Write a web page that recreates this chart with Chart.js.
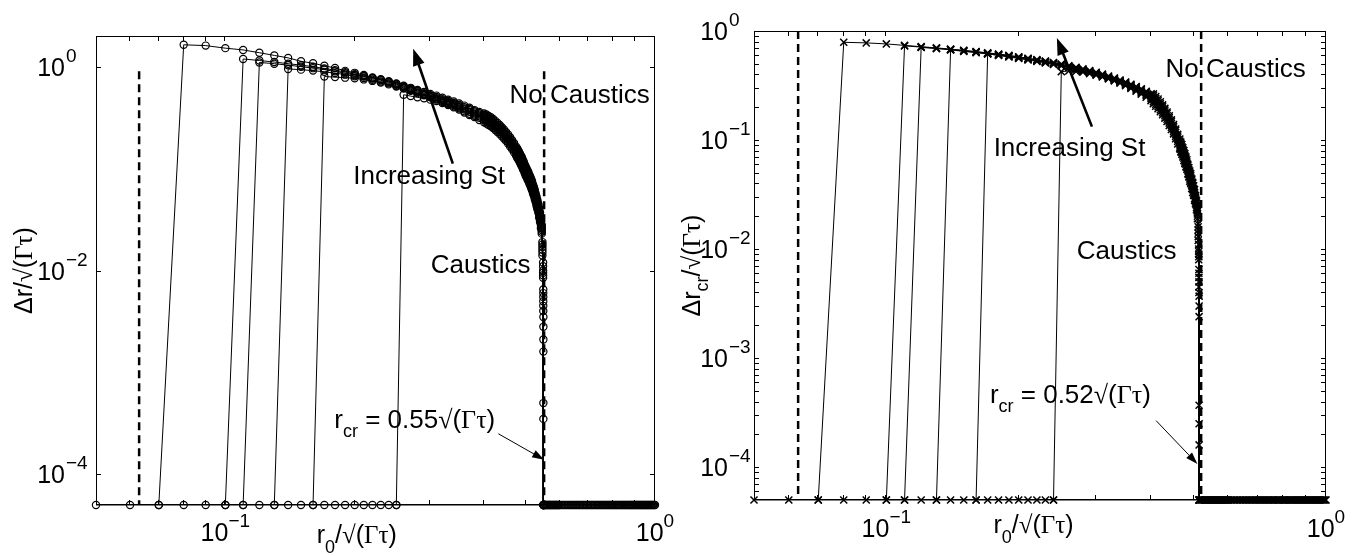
<!DOCTYPE html>
<html><head><meta charset="utf-8">
<script src="https://cdn.jsdelivr.net/npm/chart.js@4.4.1/dist/chart.umd.min.js"></script>
<style>
html,body{margin:0;padding:0;background:#fff;}
#wrap{position:relative;width:1361px;height:556px;overflow:hidden;background:#fff}
canvas{position:absolute;top:0}
</style>
</head><body>
<div id="wrap"><canvas id="cL" width="680" height="556" style="left:0"></canvas><canvas id="cR" width="681" height="556" style="left:680px"></canvas></div>
<script>
const N = null, F = 5e-5;

// ---------- LEFT PANEL DATA (circles) ----------
const xL = [0.05,0.06,0.07,0.08,0.09,0.10,0.11,0.12,0.13,0.14,
  0.15,0.16,0.17,0.18,0.19,0.20,0.21,0.22,0.23,0.24,
  0.25,0.26,0.27,0.28,0.29,0.30,0.31,0.32,0.33,0.34,
  0.35,0.36,0.37,0.38,0.39,0.40,
  0.405,0.41,0.415,0.42,0.425,0.43,0.435,0.44,0.445,0.45,
  0.455,0.46,0.465,0.47,0.475,
  0.4775,0.48,0.4825,0.485,0.4875,0.49,0.4925,0.495,0.4975,0.50,
  0.5025,0.505,0.5075,0.51,0.5125,0.515,0.5175,0.52,0.5225,0.525,
  0.5275,0.53,0.5325,0.535,0.5375,0.54,0.5425,0.545,
  0.547,0.549,0.5495,0.5498,0.55];
const aL = [N,N,F,1.64,1.61,1.52,1.46,1.37,1.29,1.22,
  1.13,1.08,1.02,0.97,0.91,0.87,0.83,0.785,0.755,0.72,
  0.685,0.65,0.62,0.59,0.565,0.54,0.52,0.495,0.475,0.455,
  0.435,0.415,0.395,0.375,0.36,0.348,
  0.340,0.329,0.319,0.307,0.294,0.281,0.268,0.255,0.242,0.229,
  0.216,0.203,0.190,0.177,0.164,
  0.158,0.152,0.146,0.140,0.134,0.129,0.122,0.117,0.110,0.105,
  0.100,0.096,0.092,0.087,0.083,0.079,0.075,0.070,0.066,0.062,
  0.057,0.053,0.049,0.045,0.041,0.037,0.032,0.028,
  0.019,0.012,0.0065,0.0035,F];
const bL = [N,N,N,N,N,F,1.19,1.15,1.11,1.07,
  1.035,1.0,0.96,0.925,0.885,0.845,0.81,0.775,0.745,0.71,
  0.675,0.64,0.61,0.58,0.55,0.525,0.505,0.48,0.46,0.44,
  0.42,0.40,0.385,0.365,0.35,0.337,
  0.328,0.317,0.307,0.295,0.283,0.270,0.258,0.245,0.233,0.220,
  0.208,0.196,0.183,0.171,0.158,
  0.152,0.147,0.140,0.135,0.129,0.124,0.118,0.112,0.106,0.101,
  0.097,0.093,0.088,0.084,0.080,0.076,0.072,0.068,0.063,0.059,
  0.055,0.051,0.047,0.044,0.040,0.035,0.031,0.027,
  0.018,0.011,0.006,0.0028,F];
const cL = [N,N,N,N,N,N,F,1.10,1.07,1.035,
  1.0,0.967,0.935,0.90,0.864,0.83,0.80,0.765,0.735,0.70,
  0.665,0.63,0.60,0.57,0.54,0.515,0.49,0.47,0.45,0.43,
  0.41,0.39,0.375,0.355,0.34,0.325,
  0.315,0.305,0.295,0.284,0.272,0.260,0.248,0.236,0.224,0.212,
  0.200,0.188,0.176,0.164,0.152,
  0.146,0.141,0.135,0.130,0.124,0.119,0.113,0.108,0.102,0.097,
  0.093,0.089,0.085,0.081,0.077,0.073,0.069,0.065,0.061,0.057,
  0.053,0.049,0.045,0.042,0.038,0.034,0.030,0.026,
  0.017,0.010,0.0055,0.0021,F];
const dL = [N,N,N,N,N,N,N,N,F,0.95,
  0.935,0.915,0.89,0.865,0.835,0.805,0.775,0.745,0.715,0.685,
  0.65,0.62,0.59,0.56,0.53,0.505,0.48,0.46,0.44,0.42,
  0.40,0.38,0.36,0.34,0.325,0.312,
  0.302,0.293,0.283,0.273,0.261,0.250,0.238,0.227,0.215,0.204,
  0.192,0.180,0.169,0.157,0.146,
  0.140,0.135,0.130,0.125,0.119,0.114,0.108,0.104,0.098,0.093,
  0.089,0.085,0.082,0.078,0.074,0.070,0.066,0.062,0.059,0.055,
  0.051,0.047,0.043,0.040,0.036,0.033,0.029,0.025,
  0.016,0.0095,0.005,0.0016,F];
const eL = [N,N,N,N,N,N,N,N,N,N,
  N,F,0.80,0.79,0.78,0.77,0.75,0.725,0.70,0.67,
  0.64,0.61,0.58,0.55,0.525,0.50,0.475,0.45,0.43,0.41,
  0.39,0.365,0.345,0.33,0.315,0.30,
  0.290,0.281,0.271,0.261,0.250,0.239,0.228,0.217,0.206,0.195,
  0.184,0.173,0.162,0.151,0.140,
  0.134,0.130,0.124,0.120,0.114,0.109,0.104,0.099,0.094,0.089,
  0.086,0.082,0.078,0.075,0.071,0.067,0.063,0.060,0.056,0.052,
  0.049,0.045,0.041,0.039,0.035,0.031,0.028,0.024,
  0.015,0.009,0.0045,0.0005,F];
const fL = [N,N,N,N,N,N,N,N,N,N,
  N,N,N,N,N,N,N,N,N,N,
  F,0.53,0.515,0.50,0.49,0.475,0.46,0.44,0.42,0.40,
  0.38,0.355,0.335,0.32,0.30,0.285,
  0.277,0.268,0.260,0.250,0.239,0.229,0.218,0.208,0.197,0.187,
  0.176,0.165,0.155,0.144,0.134,
  0.128,0.124,0.119,0.114,0.109,0.105,0.099,0.095,0.090,0.085,
  0.082,0.078,0.075,0.071,0.068,0.064,0.061,0.057,0.054,0.050,
  0.047,0.043,0.040,0.037,0.033,0.030,0.026,0.023,
  0.014,0.0085,0.004,0.00035,F];
const xFloorL = [0.05,0.06,0.07,0.08,0.09,0.10,0.11,0.12,0.13,0.14,
  0.15,0.16,0.17,0.18,0.19,0.20,0.21,0.22,0.23,0.24,0.25,
  0.55,0.5525,0.555,0.5575,0.56,0.5625,0.565,0.5675,0.57,0.5725,
  0.575,0.5775,0.58,0.5825,0.585,0.5875,0.59,0.5925,0.595,0.5975,0.60,
  0.605,0.61,0.615,0.62,0.625,0.63,0.635,0.64,0.645,0.65,
  0.655,0.66,0.665,0.67,0.675,0.68,0.685,0.69,0.695,0.70,
  0.705,0.71,0.715,0.72,0.725,0.73,0.735,0.74,0.745,0.75,
  0.755,0.76,0.765,0.77,0.775,0.78,0.785,0.79,0.795,0.80,
  0.805,0.81,0.815,0.82,0.825,0.83,0.835,0.84,0.845,0.85,
  0.855,0.86,0.865,0.87,0.875,0.88,0.885,0.89,0.895,0.90,
  0.905,0.91,0.915,0.92,0.925,0.93,0.935,0.94,0.945,0.95,
  0.955,0.96,0.965,0.97,0.975,0.98,0.985,0.99,0.995,1.00];
const yFloorL = [F,F,F,F,F,F,F,F,F,F,F,F,F,F,F,F,F,F,F,F,
  F,F,F,F,F,F,F,F,F,F,F,F,F,F,F,F,F,F,F,F,
  F,F,F,F,F,F,F,F,F,F,F,F,F,F,F,F,F,F,F,F,
  F,F,F,F,F,F,F,F,F,F,F,F,F,F,F,F,F,F,F,F,
  F,F,F,F,F,F,F,F,F,F,F,F,F,F,F,F,F,F,F,F,
  F,F,F,F,F,F,F,F,F,F,F,F,F,F,F,F,F,F,F,F,
  F,F];
const dashXL = [0.063, 0.552];
const dashTopL = 0.9;

// ---------- RIGHT PANEL DATA (crosses) ----------
const xR = [0.05,0.06,0.07,0.08,0.09,0.10,0.11,0.12,0.13,0.14,
  0.15,0.16,0.17,0.18,0.19,0.20,0.21,0.22,0.23,0.24,
  0.25,0.26,0.27,0.28,0.29,0.30,0.31,0.32,0.33,0.34,
  0.35,0.36,0.37,0.38,0.39,0.40,
  0.405,0.41,0.415,0.42,0.425,0.43,0.435,0.44,0.445,0.45,
  0.455,0.46,0.465,
  0.4675,0.47,0.4725,0.475,0.4775,0.48,0.4825,0.485,0.4875,0.49,
  0.4925,0.495,0.4975,0.50,0.5025,0.505,0.5075,0.51,
  0.512,0.5135,0.514,0.5145,0.515];
const aR = [N,N,F,0.788,0.778,0.761,0.738,0.718,0.70,0.682,
  0.665,0.648,0.63,0.615,0.598,0.58,0.563,0.546,0.53,0.513,
  0.497,0.48,0.465,0.449,0.433,0.418,0.402,0.386,0.37,0.355,
  0.34,0.325,0.31,0.295,0.28,0.266,
  0.265,0.251,0.238,0.224,0.210,0.195,0.181,0.167,0.153,0.139,
  0.126,0.113,0.102,
  0.096,0.091,0.085,0.080,0.075,0.070,0.066,0.060,0.056,0.052,
  0.049,0.044,0.041,0.038,0.035,0.031,0.028,0.024,
  0.017,0.011,0.0065,0.0037,F];
const bR = [N,N,N,N,N,F,0.73,0.712,0.695,0.677,
  0.66,0.643,0.626,0.61,0.593,0.576,0.559,0.542,0.526,0.509,
  0.492,0.476,0.46,0.444,0.428,0.413,0.397,0.381,0.366,0.351,
  0.336,0.321,0.306,0.291,0.276,0.261,
  0.255,0.241,0.229,0.215,0.202,0.188,0.175,0.161,0.148,0.134,
  0.122,0.109,0.098,
  0.093,0.087,0.082,0.077,0.072,0.068,0.063,0.058,0.054,0.050,
  0.047,0.043,0.040,0.036,0.033,0.030,0.027,0.023,
  0.016,0.010,0.006,0.003,F];
const cR = [N,N,N,N,N,N,F,0.707,0.69,0.672,
  0.655,0.638,0.621,0.605,0.588,0.571,0.554,0.537,0.521,0.504,
  0.488,0.471,0.455,0.439,0.424,0.408,0.392,0.377,0.362,0.346,
  0.331,0.316,0.301,0.287,0.272,0.256,
  0.245,0.232,0.220,0.207,0.194,0.181,0.168,0.155,0.142,0.129,
  0.117,0.105,0.094,
  0.089,0.084,0.079,0.074,0.069,0.065,0.061,0.056,0.052,0.048,
  0.045,0.041,0.038,0.035,0.032,0.029,0.026,0.022,
  0.015,0.0095,0.0055,0.0024,F];
const dR = [N,N,N,N,N,N,N,N,F,0.672,
  0.65,0.633,0.616,0.60,0.583,0.566,0.549,0.532,0.516,0.499,
  0.483,0.466,0.45,0.435,0.419,0.403,0.388,0.372,0.357,0.342,
  0.327,0.311,0.295,0.279,0.262,0.247,
  0.235,0.223,0.211,0.199,0.186,0.174,0.161,0.149,0.136,0.124,
  0.112,0.101,0.090,
  0.085,0.081,0.076,0.071,0.066,0.062,0.059,0.054,0.050,0.046,
  0.043,0.039,0.036,0.034,0.031,0.028,0.025,0.021,
  0.014,0.009,0.005,0.00025,F];
const eR = [N,N,N,N,N,N,N,N,N,N,
  N,F,0.618,0.597,0.578,0.56,0.543,0.526,0.51,0.493,
  0.477,0.461,0.445,0.43,0.414,0.398,0.383,0.368,0.353,0.338,
  0.322,0.304,0.287,0.271,0.255,0.239,
  0.225,0.213,0.202,0.190,0.178,0.167,0.155,0.143,0.131,0.119,
  0.108,0.097,0.086,
  0.082,0.077,0.073,0.068,0.063,0.060,0.056,0.052,0.048,0.044,
  0.041,0.038,0.035,0.032,0.029,0.027,0.024,0.020,
  0.013,0.0085,0.0045,0.00037,F];
const fR = [N,N,N,N,N,N,N,N,N,N,
  N,N,N,N,N,N,N,N,N,F,
  0.424,0.43,0.425,0.418,0.407,0.394,0.379,0.364,0.349,0.333,
  0.315,0.297,0.28,0.264,0.247,0.23,
  0.216,0.204,0.194,0.182,0.171,0.159,0.148,0.136,0.125,0.114,
  0.103,0.092,0.083,
  0.078,0.074,0.070,0.065,0.061,0.057,0.054,0.049,0.046,0.042,
  0.040,0.036,0.033,0.031,0.028,0.026,0.023,0.019,
  0.012,0.008,0.004,0.00016,F];
const xFloorR = [0.05,0.06,0.07,0.08,0.09,0.10,0.11,0.12,0.13,0.14,
  0.15,0.16,0.17,0.18,0.19,0.20,0.21,0.22,0.23,0.24,
  0.515,0.5175,0.52,0.5225,0.525,0.5275,0.53,0.5325,0.535,0.5375,
  0.54,0.5425,0.545,0.5475,0.55,0.5525,0.555,0.5575,0.56,0.5625,
  0.565,0.5675,0.57,0.5725,0.575,0.5775,0.58,0.5825,0.585,0.5875,
  0.59,0.5925,0.595,0.5975,0.60,
  0.605,0.61,0.615,0.62,0.625,0.63,0.635,0.64,0.645,0.65,
  0.655,0.66,0.665,0.67,0.675,0.68,0.685,0.69,0.695,0.70,
  0.705,0.71,0.715,0.72,0.725,0.73,0.735,0.74,0.745,0.75,
  0.755,0.76,0.765,0.77,0.775,0.78,0.785,0.79,0.795,0.80,
  0.805,0.81,0.815,0.82,0.825,0.83,0.835,0.84,0.845,0.85,
  0.855,0.86,0.865,0.87,0.875,0.88,0.885,0.89,0.895,0.90,
  0.905,0.91,0.915,0.92,0.925,0.93,0.935,0.94,0.945,0.95,
  0.955,0.96,0.965,0.97,0.975,0.98,0.985,0.99,0.995,1.00];
const yFloorR = [F,F,F,F,F,F,F,F,F,F,F,F,F,F,F,F,F,F,F,F,
  F,F,F,F,F,F,F,F,F,F,F,F,F,F,F,F,F,F,F,F,
  F,F,F,F,F,F,F,F,F,F,F,F,F,F,F,F,F,F,F,F,
  F,F,F,F,F,F,F,F,F,F,F,F,F,F,F,F,F,F,F,F,
  F,F,F,F,F,F,F,F,F,F,F,F,F,F,F,F,F,F,F,F,
  F,F,F,F,F,F,F,F,F,F,F,F,F,F,F,F,F,F,F,F,
  F,F,F,F,F,F,F,F,F,F,F,F,F,F,F];
const dashXR = [0.063, 0.52];
const dashTopR = 1;

// ---------- TICKS ----------
const xMajorTicks = [0.1, 1];
const xMajorExp = ['\u22121', '0'];
const xMinorTicks = [0.06,0.07,0.08,0.09,0.2,0.3,0.4,0.5,0.6,0.7,0.8,0.9];
const yTicksL = [1e-4, 1e-2, 1];
const yExpL = ['\u22124', '\u22122', '0'];
const yTicksR = [1e-4, 1e-3, 1e-2, 1e-1, 1];
const yExpR = ['\u22124', '\u22123', '\u22122', '\u22121', '0'];
const yMinorR = [6e-5,7e-5,8e-5,9e-5,
  2e-4,3e-4,4e-4,5e-4,6e-4,7e-4,8e-4,9e-4,
  2e-3,3e-3,4e-3,5e-3,6e-3,7e-3,8e-3,9e-3,
  0.02,0.03,0.04,0.05,0.06,0.07,0.08,0.09,
  0.2,0.3,0.4,0.5,0.6,0.7,0.8,0.9];

// ---------- STYLE / TEXT ----------
const SANS = '"Liberation Sans", Arial, Helvetica, sans-serif';
const SERIF = '"Liberation Serif", "Times New Roman", serif';
const T25 = '25px ' + SANS, T18 = '18px ' + SANS, S25 = '25px ' + SERIF;
const A26 = '26px ' + SANS, A18 = '18px ' + SANS, S26 = '26px ' + SERIF;

function sqrtGT(fs, ss) { return [{t:'\u221A', f:ss}, {t:'(', f:fs}, {t:'\u0393\u03C4', f:ss}, {t:')', f:fs}]; }

const xTitle = [{t:'r', f:T25}, {t:'0', f:T18, dy:10}, {t:'/', f:T25}].concat(sqrtGT(T25, S25));
const yTitleL = [{t:'\u0394r/', f:T25}].concat(sqrtGT(T25, S25));
const yTitleR = [{t:'\u0394r', f:T25}, {t:'cr', f:T18, dy:8}, {t:'/', f:T25}].concat(sqrtGT(T25, S25));

const annL = {
  texts: [
    {x:0.1985, y:0.0713, segs:[{t:'Increasing St', f:A26}]},
    {x:0.4587, y:0.436, segs:[{t:'No Caustics', f:A26}]},
    {x:0.3007, y:0.00955, segs:[{t:'Caustics', f:A26}]},
    {x:0.1793, y:2.82e-4, segs:[{t:'r', f:A26}, {t:'cr', f:A18, dy:9}, {t:' = 0.55', f:A26}].concat(sqrtGT(A26, S26))}
  ],
  arrows: [
    {x0:0.3384, y0:0.112, x1:0.2737, y1:1.50, lw:2.6, hl:17, hw:6},
    {x0:0.432, y0:2.5e-4, x1:0.552, y1:1.39e-4, lw:1, hl:12, hw:4}
  ]
};
const annR = {
  texts: [
    {x:0.1754, y:0.0719, segs:[{t:'Increasing St', f:A26}]},
    {x:0.4316, y:0.3776, segs:[{t:'No Caustics', f:A26}]},
    {x:0.2711, y:0.00816, segs:[{t:'Caustics', f:A26}]},
    {x:0.172, y:3.9e-4, segs:[{t:'r', f:A26}, {t:'cr', f:A18, dy:9}, {t:' = 0.52', f:A26}].concat(sqrtGT(A26, S26))}
  ],
  arrows: [
    {x0:0.2935, y0:0.1327, x1:0.2443, y1:0.864, lw:2.6, hl:17, hw:6},
    {x0:0.4108, y0:2.67e-4, x1:0.51, y1:1.07e-4, lw:1, hl:12, hw:4}
  ]
};

function drawRich(ctx, segs, x, y, align) {
  let w = 0;
  const ws = segs.map(s => { ctx.font = s.f; const m = ctx.measureText(s.t).width; w += m; return m; });
  let cx = align === 'center' ? x - w / 2 : (align === 'right' ? x - w : x);
  ctx.textAlign = 'left'; ctx.textBaseline = 'alphabetic';
  segs.forEach((s, i) => { ctx.font = s.f; ctx.fillText(s.t, cx, y + (s.dy || 0)); cx += ws[i]; });
}
function drawArrow(ctx, x0, y0, x1, y1, lw, hl, hw) {
  const a = Math.atan2(y1 - y0, x1 - x0);
  const bx = x1 - hl * Math.cos(a), by = y1 - hl * Math.sin(a);
  ctx.lineWidth = lw;
  ctx.beginPath(); ctx.moveTo(x0, y0); ctx.lineTo(bx + 0.3 * hl * Math.cos(a), by + 0.3 * hl * Math.sin(a)); ctx.stroke();
  ctx.beginPath(); ctx.moveTo(x1, y1);
  ctx.lineTo(bx + hw * Math.sin(a), by - hw * Math.cos(a));
  ctx.lineTo(bx - hw * Math.sin(a), by + hw * Math.cos(a));
  ctx.closePath(); ctx.fill();
}

function decoPlugin(P) {
  return {
    id: 'deco',
    afterDraw(chart) {
      const ctx = chart.ctx, ca = chart.chartArea, sx = chart.scales.x, sy = chart.scales.y;
      ctx.save();
      ctx.strokeStyle = '#000'; ctx.fillStyle = '#000'; ctx.lineWidth = 1;
      ctx.strokeRect(ca.left + 0.5, ca.top + 0.5, ca.right - ca.left - 1, ca.bottom - ca.top - 1);
      const TL = 5;
      ctx.beginPath();
      xMajorTicks.concat(xMinorTicks).forEach(v => {
        const px = Math.round(sx.getPixelForValue(v)) - 0.5;
        ctx.moveTo(px, ca.bottom); ctx.lineTo(px, ca.bottom - TL);
        ctx.moveTo(px, ca.top); ctx.lineTo(px, ca.top + TL);
      });
      P.yTicks.concat(P.yMinor).forEach(v => {
        const py = Math.round(sy.getPixelForValue(v)) + 0.5;
        ctx.moveTo(ca.left, py); ctx.lineTo(ca.left + TL, py);
        ctx.moveTo(ca.right, py); ctx.lineTo(ca.right - TL, py);
      });
      ctx.stroke();
      const BF = '25px ' + SANS, EF = '19px ' + SANS;
      xMajorTicks.forEach((v, i) => {
        drawRich(ctx, [{t:'10', f:BF}, {t:xMajorExp[i], f:EF, dy:-14}], sx.getPixelForValue(v), ca.bottom + P.xLabelBase, 'center');
      });
      P.yTicks.forEach((v, i) => {
        const py = sy.getPixelForValue(v);
        drawRich(ctx, [{t:'10', f:BF}], ca.left - P.yLabelGap, py + 9, 'right');
        drawRich(ctx, [{t:P.yExp[i], f:EF}], ca.left - P.yLabelGap + 1, py - 5, 'left');
      });
      drawRich(ctx, xTitle, ca.left + P.xTitleX, ca.bottom + P.xTitleBase, 'left');
      ctx.save();
      ctx.translate(ca.left + P.yTitleX, (ca.top + ca.bottom) / 2);
      ctx.rotate(-Math.PI / 2);
      drawRich(ctx, P.yTitle, 0, 0, 'center');
      ctx.restore();
      P.ann.texts.forEach(t => drawRich(ctx, t.segs, sx.getPixelForValue(t.x), sy.getPixelForValue(t.y), 'left'));
      P.ann.arrows.forEach(a => drawArrow(ctx, sx.getPixelForValue(a.x0), sy.getPixelForValue(a.y0), sx.getPixelForValue(a.x1), sy.getPixelForValue(a.y1), a.lw, a.hl, a.hw));
      ctx.restore();
    }
  };
}

function makePanel(P) {
  const style = { showLine: true, borderColor: '#000', borderWidth: 1.0, pointStyle: P.marker, pointRadius: P.r, pointHoverRadius: P.r,
    pointBorderColor: '#000', pointBorderWidth: P.pbw, pointBackgroundColor: 'rgba(0,0,0,0)', clip: false, tension: 0, fill: false };
  const datasets = [];
  P.dashX.forEach(d => datasets.push({ data: [{x: d, y: P.dashTop}, {x: d, y: F}], showLine: true, borderColor: '#000', borderWidth: 2.5, borderDash: [8, 5], pointRadius: 0, clip: false, fill: false }));
  P.series.forEach(ys => datasets.push(Object.assign({ data: P.x.map((x, i) => ({x: x, y: ys[i]})) }, style)));
  datasets.push(Object.assign({ data: P.floorX.map((x, i) => ({x: x, y: P.floorY[i]})) }, style));
  new Chart(document.getElementById(P.canvas), {
    type: 'scatter',
    data: { datasets: datasets },
    options: {
      responsive: false, animation: false, devicePixelRatio: 1, events: [],
      layout: { padding: P.pad, autoPadding: false },
      plugins: { legend: { display: false }, tooltip: { enabled: false } },
      scales: {
        x: { type: 'logarithmic', min: 0.05, max: 1, ticks: { display: false }, grid: { display: false }, border: { display: false }, afterFit: s => { s.height = 0; } },
        y: { type: 'logarithmic', min: F, max: P.ymax, ticks: { display: false }, grid: { display: false }, border: { display: false }, afterFit: s => { s.width = 0; } }
      }
    },
    plugins: [decoPlugin(P)]
  });
}

makePanel({ canvas: 'cL', pad: {left: 96, right: 25, top: 36, bottom: 51}, ymax: 2,
  x: xL, series: [aL, bL, cL, dL, eL, fL], floorX: xFloorL, floorY: yFloorL,
  dashX: dashXL, dashTop: dashTopL, marker: 'circle', r: 3.6, pbw: 1.2,
  yTicks: yTicksL, yExp: yExpL, yMinor: [], yLabelGap: 31, xLabelBase: 36,
  xTitleX: 220.7, xTitleBase: 38, yTitle: yTitleL, yTitleX: -64, ann: annL });
makePanel({ canvas: 'cR', pad: {left: 74, right: 35, top: 31, bottom: 56}, ymax: 1,
  x: xR, series: [aR, bR, cR, dR, eR, fR], floorX: xFloorR, floorY: yFloorR,
  dashX: dashXR, dashTop: dashTopR, marker: 'crossRot', r: 5, pbw: 1.5,
  yTicks: yTicksR, yExp: yExpR, yMinor: yMinorR, yLabelGap: 26, xLabelBase: 36.5,
  xTitleX: 239.5, xTitleBase: 33, yTitle: yTitleR, yTitleX: -54.5, ann: annR });
</script>
</body></html>
